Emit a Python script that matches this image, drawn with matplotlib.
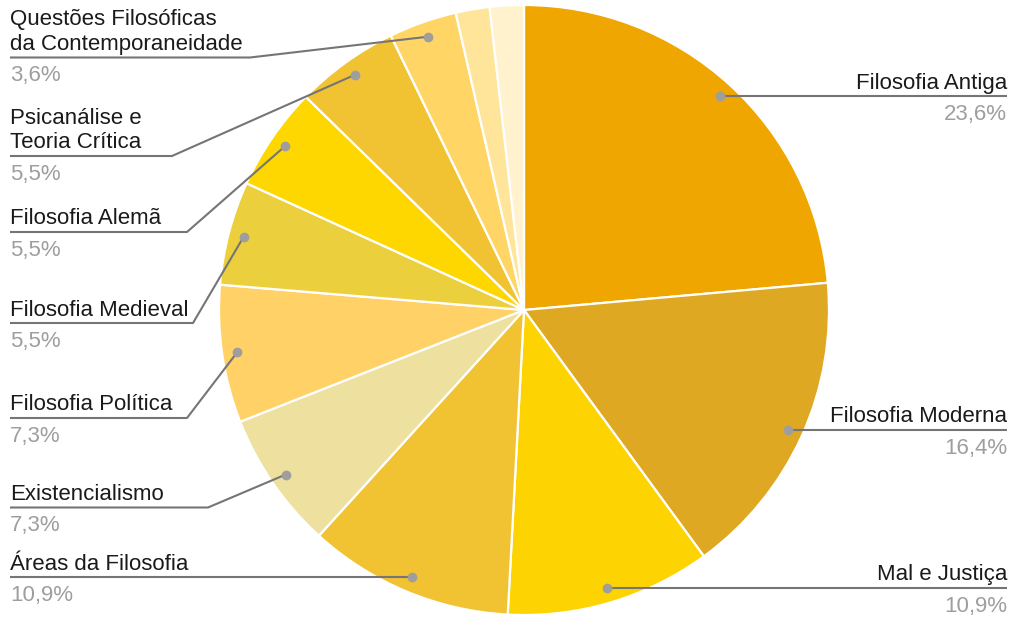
import matplotlib
matplotlib.use("Agg")
import matplotlib.pyplot as plt

# data (percent of total)
categories = ["Filosofia Antiga", "Filosofia Moderna", "Mal e Justiça",
              "Áreas da Filosofia", "Existencialismo", "Filosofia Política",
              "Filosofia Medieval", "Filosofia Alemã",
              "Psicanálise e\nTeoria Crítica",
              "Questões Filosóficas\nda Contemporaneidade", "", ""]
shares = [23.6, 16.4, 10.9, 10.9, 7.3, 7.3, 5.5, 5.5, 5.5, 3.6, 1.8, 1.8]
colors = ["#efa600", "#dfa822", "#fdd401", "#f1c232", "#eee09e", "#ffd166",
          "#eccf3c", "#fed600", "#f1c232", "#ffd666", "#ffe599", "#fff2cc"]

# label layout in pixels: (side, underline y, kink x); kink None -> straight line
layout = [("right", None, None), ("right", None, None), ("right", None, None),
          ("left", None, None), ("left", 507.5, 208), ("left", 418, 187),
          ("left", 323, 193), ("left", 232, 187), ("left", 156, 172),
          ("left", 57.5, 250), None, None]

plt.rcParams['font.family'] = ['Liberation Sans', 'DejaVu Sans']

fig = plt.figure(figsize=(10.24, 6.25), dpi=100)
ax = fig.add_axes([0, 0, 1, 1])

wedges, _ = ax.pie(shares, colors=colors, center=(524, 310), radius=305,
                   startangle=-90, counterclock=True,
                   wedgeprops=dict(edgecolor="white", linewidth=1.6))
ax.set_xlim(0, 1024)
ax.set_ylim(625, 0)
ax.set_aspect("equal")
ax.axis("off")

import numpy as np
left_x, right_x = 10, 1007
for w, name, val, lay in zip(wedges, categories, shares, layout):
    if lay is None:
        continue
    side, uy, kx = lay
    mid = np.deg2rad((w.theta1 + w.theta2) / 2)
    dx = w.center[0] + 0.95 * w.r * np.cos(mid)
    dy = w.center[1] + 0.95 * w.r * np.sin(mid)
    if uy is None:
        uy = dy
        xs, ys = [dx, left_x if side == "left" else right_x], [dy, dy]
    else:
        xs, ys = [dx, kx, left_x], [dy, uy, uy]
    ax.plot(xs, ys, color="#757575", lw=1.5, solid_capstyle="butt", zorder=3)
    ax.plot(dx, dy, "o", color="#9e9e9e", ms=6, zorder=4)
    tx = left_x if side == "left" else right_x
    ha = "left" if side == "left" else "right"
    ax.text(tx, uy - 7.5, name, ha=ha, va="baseline", fontsize=16,
            color="#1a1a1a", linespacing=1.25)
    ax.text(tx, uy + 24, f"{val:.1f}".replace(".", ",") + "%", ha=ha,
            va="baseline", fontsize=16, color="#9e9e9e")

fig.savefig("out.png", dpi=100, facecolor="white")
